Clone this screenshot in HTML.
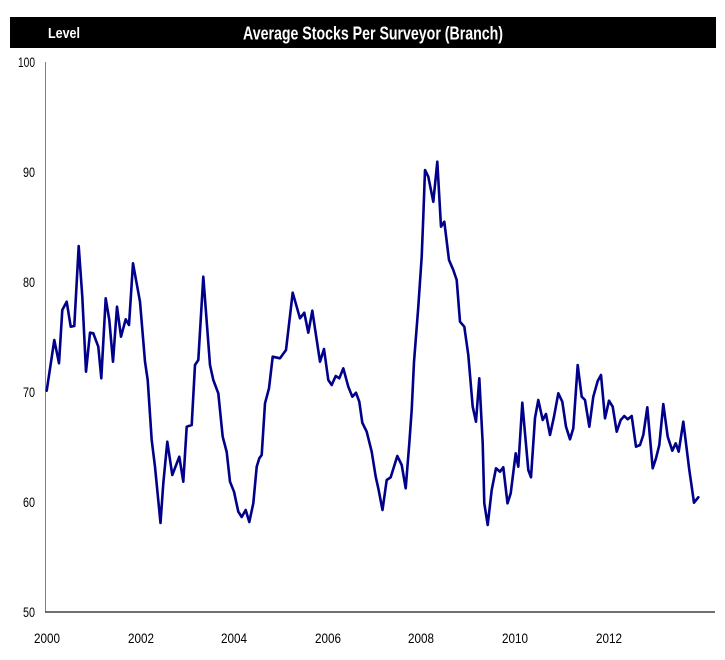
<!DOCTYPE html>
<html>
<head>
<meta charset="utf-8">
<style>
  html, body { margin:0; padding:0; background:#ffffff; }
  body { width:725px; height:660px; overflow:hidden; }
  svg { display:block; }
  text { font-family: "Liberation Sans", Arial, sans-serif; }
</style>
</head>
<body>
<svg width="725" height="660" viewBox="0 0 725 660" xmlns="http://www.w3.org/2000/svg">
  <rect x="0" y="0" width="725" height="660" fill="#ffffff"/>
  <!-- header bar -->
  <rect x="10" y="17" width="706" height="31" fill="#000000"/>
  <text x="48" y="38" fill="#ffffff" font-size="15" font-weight="bold" textLength="32" lengthAdjust="spacingAndGlyphs">Level</text>
  <text x="243" y="39.5" fill="#ffffff" font-size="18" font-weight="bold" textLength="260" lengthAdjust="spacingAndGlyphs">Average Stocks Per Surveyor (Branch)</text>

  <!-- axes -->
  <line x1="45.5" y1="62" x2="45.5" y2="612" stroke="#808080" stroke-width="1"/>
  <line x1="45" y1="612" x2="715" y2="612" stroke="#404040" stroke-width="1.5"/>

  <!-- y tick labels -->
  <g font-size="14" fill="#000000" text-anchor="end">
    <text x="35" y="67" textLength="17" lengthAdjust="spacingAndGlyphs">100</text>
    <text x="35" y="177" textLength="12" lengthAdjust="spacingAndGlyphs">90</text>
    <text x="35" y="287" textLength="12" lengthAdjust="spacingAndGlyphs">80</text>
    <text x="35" y="397" textLength="12" lengthAdjust="spacingAndGlyphs">70</text>
    <text x="35" y="507" textLength="12" lengthAdjust="spacingAndGlyphs">60</text>
    <text x="35" y="617" textLength="12" lengthAdjust="spacingAndGlyphs">50</text>
  </g>

  <!-- x tick labels -->
  <g font-size="14" fill="#000000">
    <text x="34" y="643" textLength="26" lengthAdjust="spacingAndGlyphs">2000</text>
    <text x="128" y="643" textLength="26" lengthAdjust="spacingAndGlyphs">2002</text>
    <text x="221" y="643" textLength="26" lengthAdjust="spacingAndGlyphs">2004</text>
    <text x="315" y="643" textLength="26" lengthAdjust="spacingAndGlyphs">2006</text>
    <text x="408" y="643" textLength="26" lengthAdjust="spacingAndGlyphs">2008</text>
    <text x="502" y="643" textLength="26" lengthAdjust="spacingAndGlyphs">2010</text>
    <text x="596" y="643" textLength="26" lengthAdjust="spacingAndGlyphs">2012</text>
  </g>

  <!-- series -->
  <polyline fill="none" stroke="#00008B" stroke-width="2.6" stroke-linejoin="round" stroke-linecap="round" points="
46.7,390.7 54.3,340 59,363.3 62.3,310 66.7,301.7 70.7,326.7 74.3,326 78.7,246 82.3,296.7 86,371.7
90,332.7 93.3,333.3 98.3,346.7 101.3,378.3 105.7,298.3 109.3,320 113,361.7 117,306.7 121,336.7 125.7,319.3
129,325 133,263.3 140,301.7 145,361.7 147.7,380 151.7,440 155,466.7 160.5,523 163.3,483.3 167.3,441.7
172.3,475 179.3,456.7 183.3,481.7 186.7,426.7 191.7,425 195,365 198.3,360 203.3,276.7 210,365 213.3,380
218.3,393.3 222.7,436.7 226.7,452 230,481.7 234,491.7 238.3,511.7 241.7,517 245.7,510 249.3,522 253.3,503.3
256.7,466.7 259.3,458.3 261.7,455 265,403.3 269,388.3 272.7,356.7 280,358.3 286,350 292.7,292.7 300,318.3
304.3,312.7 308.3,332.7 312.3,310.7 320,361.7 324,349 328.3,380 331.7,385 335.7,376 339.3,378.3 343.3,368.3
348.3,386.7 352.3,396.7 356,392.7 359.3,401.7 362.3,422.7 366.7,431.7 371.7,451.7 375.7,476.7 378.3,488.3 382.5,510
386.7,480 390.7,477.3 397.3,456 401.7,465 405.7,488.3 409.3,443.3 411.7,410 414,362 418.3,306.7 421.7,256.7
423.3,216.7 425,170 428.3,176.7 433.3,201.7 437.3,161.7 441,226.7 444.3,221.7 449,260 453.3,270 456.7,280
460,321.7 464.3,326.7 468.3,355 472.7,406.7 476,421.7 479.3,378.3 482.7,443.3 484.3,503.3 487.7,525 491.7,490
496,468.3 500,471.7 503.3,467.3 507.5,503.3 510.7,493.3 515.7,453.3 518.3,466.7 522.3,402.7 525,433.3 528.3,470
531,477.3 535,418 538.3,400 542.7,420 546,414 550,435 554,416.7 558.3,393.3 562.3,401.7 566,426.7
570,439.3 573.3,428.3 577.7,365 581.7,396.7 585,400 589.3,426.7 593.3,396.7 597.7,381 601,375 605,418.3
609,400.7 612.7,406.7 616.7,431.7 620.7,420 624.3,416 627.7,419.3 631.7,416 636,446.7 640,445 643.3,435
647.3,407.3 652.7,468.3 656,458.3 659.3,445 663.3,404 667.7,436.7 672.3,450.7 675.7,443.3 678.7,451.7 683.3,421.7
689.3,470 694,502.7 698.3,497.3"/>
</svg>
</body>
</html>
